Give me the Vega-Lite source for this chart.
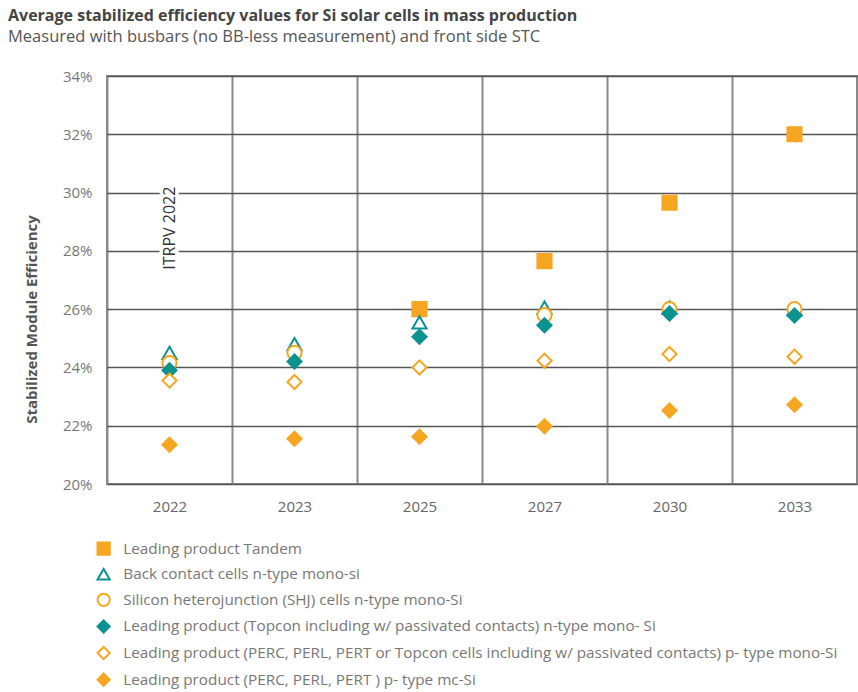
{
  "$schema": "https://vega.github.io/schema/vega-lite/v6.json",
  "width": 750,
  "height": 408,
  "autosize": {"type": "none"},
  "padding": {"left": 107, "top": 76, "right": 1, "bottom": 208},
  "background": "white",
  "config": {
    "font": "Open Sans",
    "view": {"stroke": "#8a8a8a", "strokeWidth": 2}
  },
  "title": {
    "text": "Average stabilized efficiency values for Si solar cells in mass production",
    "subtitle": "Measured with busbars (no BB-less measurement) and front side STC",
    "anchor": "start",
    "frame": "group",
    "dx": -99,
    "offset": 24,
    "fontSize": 16,
    "fontWeight": "bold",
    "color": "#444444",
    "subtitleFontSize": 16.5,
    "subtitleColor": "#555555",
    "subtitlePadding": 5
  },
  "datasets": {
    "points": [
      {"year": "2025", "value": 0.260, "series": "Leading product Tandem"},
      {"year": "2027", "value": 0.2765, "series": "Leading product Tandem"},
      {"year": "2030", "value": 0.2965, "series": "Leading product Tandem"},
      {"year": "2033", "value": 0.320, "series": "Leading product Tandem"},
      {"year": "2022", "value": 0.245, "series": "Back contact cells n-type mono-si"},
      {"year": "2023", "value": 0.248, "series": "Back contact cells n-type mono-si"},
      {"year": "2025", "value": 0.2555, "series": "Back contact cells n-type mono-si"},
      {"year": "2027", "value": 0.2605, "series": "Back contact cells n-type mono-si"},
      {"year": "2030", "value": 0.2605, "series": "Back contact cells n-type mono-si"},
      {"year": "2033", "value": 0.2600, "series": "Back contact cells n-type mono-si"},
      {"year": "2022", "value": 0.2415, "series": "Silicon heterojunction (SHJ) cells n-type mono-Si"},
      {"year": "2023", "value": 0.245, "series": "Silicon heterojunction (SHJ) cells n-type mono-Si"},
      {"year": "2027", "value": 0.258, "series": "Silicon heterojunction (SHJ) cells n-type mono-Si"},
      {"year": "2030", "value": 0.260, "series": "Silicon heterojunction (SHJ) cells n-type mono-Si"},
      {"year": "2033", "value": 0.260, "series": "Silicon heterojunction (SHJ) cells n-type mono-Si"},
      {"year": "2022", "value": 0.239, "series": "Leading product (Topcon including w/ passivated contacts) n-type mono- Si"},
      {"year": "2023", "value": 0.242, "series": "Leading product (Topcon including w/ passivated contacts) n-type mono- Si"},
      {"year": "2025", "value": 0.2505, "series": "Leading product (Topcon including w/ passivated contacts) n-type mono- Si"},
      {"year": "2027", "value": 0.2545, "series": "Leading product (Topcon including w/ passivated contacts) n-type mono- Si"},
      {"year": "2030", "value": 0.2585, "series": "Leading product (Topcon including w/ passivated contacts) n-type mono- Si"},
      {"year": "2033", "value": 0.2578, "series": "Leading product (Topcon including w/ passivated contacts) n-type mono- Si"},
      {"year": "2022", "value": 0.2355, "series": "Leading product (PERC, PERL, PERT or Topcon cells including w/ passivated contacts) p- type mono-Si"},
      {"year": "2023", "value": 0.235, "series": "Leading product (PERC, PERL, PERT or Topcon cells including w/ passivated contacts) p- type mono-Si"},
      {"year": "2025", "value": 0.240, "series": "Leading product (PERC, PERL, PERT or Topcon cells including w/ passivated contacts) p- type mono-Si"},
      {"year": "2027", "value": 0.2423, "series": "Leading product (PERC, PERL, PERT or Topcon cells including w/ passivated contacts) p- type mono-Si"},
      {"year": "2030", "value": 0.2446, "series": "Leading product (PERC, PERL, PERT or Topcon cells including w/ passivated contacts) p- type mono-Si"},
      {"year": "2033", "value": 0.2437, "series": "Leading product (PERC, PERL, PERT or Topcon cells including w/ passivated contacts) p- type mono-Si"},
      {"year": "2022", "value": 0.2135, "series": "Leading product (PERC, PERL, PERT ) p- type mc-Si"},
      {"year": "2023", "value": 0.2155, "series": "Leading product (PERC, PERL, PERT ) p- type mc-Si"},
      {"year": "2025", "value": 0.2162, "series": "Leading product (PERC, PERL, PERT ) p- type mc-Si"},
      {"year": "2027", "value": 0.2198, "series": "Leading product (PERC, PERL, PERT ) p- type mc-Si"},
      {"year": "2030", "value": 0.2252, "series": "Leading product (PERC, PERL, PERT ) p- type mc-Si"},
      {"year": "2033", "value": 0.2272, "series": "Leading product (PERC, PERL, PERT ) p- type mc-Si"}
    ],
    "notes": [
      {"year": "2022", "value": 0.2878, "label": "ITRPV 2022"}
    ]
  },
  "layer": [
    {
      "data": {"name": "points"},
      "mark": {"type": "point", "size": 200, "strokeWidth": 2, "opacity": 1, "filled": false},
      "encoding": {
        "x": {
          "field": "year", "type": "ordinal",
          "sort": ["2022", "2023", "2025", "2027", "2030", "2033"],
          "scale": {"domain": ["2022", "2023", "2025", "2027", "2030", "2033"], "paddingInner": 0, "paddingOuter": 0},
          "axis": {
            "title": null, "grid": true, "tickBand": "extent", "gridColor": "#8a8a8a", "gridWidth": 2,
            "domain": false, "ticks": false, "labelAngle": 0, "labelPadding": 15,
            "labelFontSize": 15, "labelColor": "#666666"
          }
        },
        "y": {
          "field": "value", "type": "quantitative",
          "scale": {"domain": [0.2, 0.34], "nice": false, "zero": false},
          "axis": {
            "title": "Stabilized Module Efficiency", "values": [0.2, 0.22, 0.24, 0.26, 0.28, 0.3, 0.32, 0.34],
            "format": ".0%", "grid": true, "gridColor": "#555555", "gridWidth": 1.6,
            "domain": false, "ticks": false, "labelPadding": 15, "labelFontSize": 15, "labelColor": "#777777",
            "titleFontSize": 15, "titleFontWeight": "bold", "titleColor": "#555555",
            "titleX": -76, "titleY": 243, "titleAlign": "center", "titleBaseline": "middle", "titleAngle": 270
          }
        },
        "shape": {
          "field": "series", "type": "nominal",
          "scale": {
            "domain": ["Leading product Tandem", "Back contact cells n-type mono-si", "Silicon heterojunction (SHJ) cells n-type mono-Si", "Leading product (Topcon including w/ passivated contacts) n-type mono- Si", "Leading product (PERC, PERL, PERT or Topcon cells including w/ passivated contacts) p- type mono-Si", "Leading product (PERC, PERL, PERT ) p- type mc-Si"],
            "range": ["square", "triangle-up", "circle", "diamond", "diamond", "diamond"]
          },
          "legend": {
            "title": null, "orient": "none", "legendX": -11, "legendY": 465, "direction": "vertical",
            "symbolSize": 150, "symbolStrokeWidth": 2, "labelFontSize": 15.3, "labelColor": "#777777",
            "labelOffset": 12, "rowPadding": 5.6, "labelLimit": 800
          }
        },
        "fill": {
          "field": "series", "type": "nominal",
          "scale": {
            "domain": ["Leading product Tandem", "Back contact cells n-type mono-si", "Silicon heterojunction (SHJ) cells n-type mono-Si", "Leading product (Topcon including w/ passivated contacts) n-type mono- Si", "Leading product (PERC, PERL, PERT or Topcon cells including w/ passivated contacts) p- type mono-Si", "Leading product (PERC, PERL, PERT ) p- type mc-Si"],
            "range": ["#F6A620", "#ffffff", "#ffffff", "#0A9390", "#ffffff", "#F6A620"]
          },
          "legend": {
            "title": null, "orient": "none", "legendX": -11, "legendY": 465, "direction": "vertical",
            "symbolSize": 150, "symbolStrokeWidth": 2, "labelFontSize": 15.3, "labelColor": "#777777",
            "labelOffset": 12, "rowPadding": 5.6, "labelLimit": 800
          }
        },
        "stroke": {
          "field": "series", "type": "nominal",
          "scale": {
            "domain": ["Leading product Tandem", "Back contact cells n-type mono-si", "Silicon heterojunction (SHJ) cells n-type mono-Si", "Leading product (Topcon including w/ passivated contacts) n-type mono- Si", "Leading product (PERC, PERL, PERT or Topcon cells including w/ passivated contacts) p- type mono-Si", "Leading product (PERC, PERL, PERT ) p- type mc-Si"],
            "range": ["#F6A620", "#0A9390", "#F6A620", "#0A9390", "#F6A620", "#F6A620"]
          },
          "legend": {
            "title": null, "orient": "none", "legendX": -11, "legendY": 465, "direction": "vertical",
            "symbolSize": 150, "symbolStrokeWidth": 2, "labelFontSize": 15.3, "labelColor": "#777777",
            "labelOffset": 12, "rowPadding": 5.6, "labelLimit": 800
          }
        }
      }
    },
    {
      "data": {"name": "notes"},
      "mark": {"type": "text", "angle": 270, "fontSize": 16, "color": "white", "stroke": "white", "strokeWidth": 7, "align": "center", "baseline": "middle"},
      "encoding": {
        "x": {"field": "year", "type": "ordinal"},
        "y": {"field": "value", "type": "quantitative"},
        "text": {"field": "label"}
      }
    },
    {
      "data": {"name": "notes"},
      "mark": {"type": "text", "angle": 270, "fontSize": 16, "color": "#333333", "align": "center", "baseline": "middle"},
      "encoding": {
        "x": {"field": "year", "type": "ordinal"},
        "y": {"field": "value", "type": "quantitative"},
        "text": {"field": "label"}
      }
    }
  ]
}
